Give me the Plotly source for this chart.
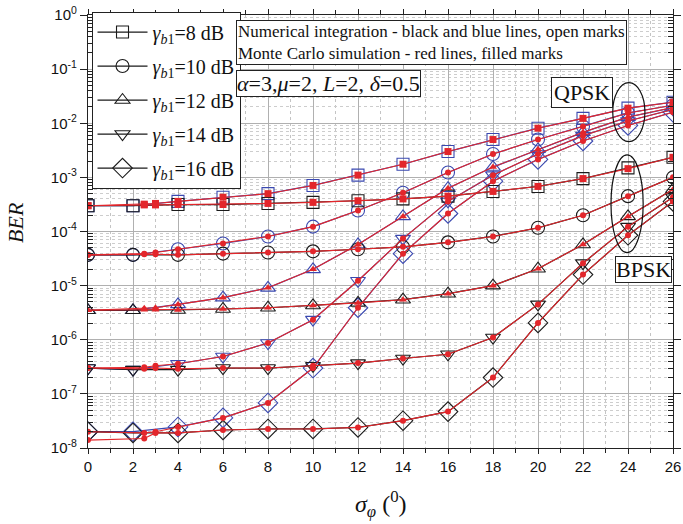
import plotly.graph_objects as go

# ---------------- data ----------------
sigma = [0, 2, 4, 6, 8, 10, 12, 14, 16, 18, 20, 22, 24, 26]
sigma_mc = [0, 2.5, 3, 4, 6, 8, 10, 12, 14, 16, 18, 20, 22, 24, 26]
snr_labels = ["8", "10", "12", "14", "16"]

bpsk_8 = [3.0e-4, 3.0e-4, 3.15e-4, 3.15e-4, 3.3e-4, 3.45e-4, 3.7e-4, 4.0e-4, 4.5e-4, 5.5e-4, 6.8e-4, 9.5e-4, 1.5e-3, 2.35e-3]
bpsk_10 = [3.7e-5, 3.7e-5, 3.7e-5, 3.9e-5, 4.1e-5, 4.3e-5, 4.7e-5, 5.2e-5, 6.3e-5, 8.1e-5, 1.17e-4, 2.0e-4, 4.5e-4, 1.0e-3]
bpsk_12 = [3.5e-6, 3.5e-6, 3.55e-6, 3.7e-6, 3.9e-6, 4.3e-6, 4.8e-6, 5.5e-6, 7.1e-6, 1.0e-5, 2.05e-5, 5.75e-5, 1.9e-4, 6.0e-4]
bpsk_14 = [3.0e-7, 2.8e-7, 2.8e-7, 3.0e-7, 3.0e-7, 3.3e-7, 3.7e-7, 4.5e-7, 5.4e-7, 1.1e-6, 4.5e-6, 2.6e-5, 1.23e-4, 4.3e-4]
bpsk_16 = [2.0e-8, 1.9e-8, 1.9e-8, 2.15e-8, 2.25e-8, 2.25e-8, 2.4e-8, 3.2e-8, 4.7e-8, 2.0e-7, 2.05e-6, 1.6e-5, 8.5e-5, 3.6e-4]

qpsk_8 = [3.0e-4, 3.0e-4, 3.6e-4, 4.3e-4, 5.0e-4, 7.1e-4, 1.1e-3, 1.75e-3, 3.0e-3, 5.0e-3, 8.1e-3, 1.23e-2, 1.9e-2, 2.45e-2]
qpsk_10 = [3.7e-5, 3.7e-5, 4.7e-5, 6.0e-5, 8.1e-5, 1.23e-4, 2.45e-4, 5.2e-4, 1.23e-3, 2.7e-3, 5.0e-3, 8.7e-3, 1.55e-2, 2.15e-2]
qpsk_12 = [3.5e-6, 3.5e-6, 4.5e-6, 6.0e-6, 9.1e-6, 2.0e-5, 5.75e-5, 1.9e-4, 6.3e-4, 1.55e-3, 3.3e-3, 6.8e-3, 1.3e-2, 1.95e-2]
qpsk_14 = [3.0e-7, 2.8e-7, 3.6e-7, 4.9e-7, 8.7e-7, 2.35e-6, 1.23e-5, 7.4e-5, 3.6e-4, 1.1e-3, 2.7e-3, 5.9e-3, 1.1e-2, 1.8e-2]
qpsk_16 = [2.0e-8, 2.0e-8, 2.45e-8, 3.6e-8, 6.8e-8, 3.0e-7, 3.9e-6, 3.9e-5, 2.15e-4, 8.5e-4, 2.15e-3, 4.7e-3, 9.1e-3, 1.6e-2]

mc_bpsk_8 = [3.0e-4, 3.1e-4, 3.1e-4, 3.15e-4, 3.15e-4, 3.3e-4, 3.45e-4, 3.7e-4, 4.0e-4, 4.5e-4, 5.5e-4, 6.8e-4, 9.5e-4, 1.45e-3, 2.35e-3]
mc_bpsk_10 = [3.7e-5, 3.8e-5, 3.8e-5, 3.7e-5, 3.9e-5, 4.1e-5, 4.3e-5, 4.7e-5, 5.2e-5, 6.3e-5, 8.1e-5, 1.17e-4, 2.0e-4, 4.5e-4, 1.0e-3]
mc_bpsk_12 = [3.5e-6, 3.6e-6, 3.6e-6, 3.55e-6, 3.7e-6, 3.9e-6, 4.3e-6, 4.8e-6, 5.5e-6, 7.1e-6, 1.0e-5, 2.05e-5, 5.75e-5, 1.9e-4, 6.0e-4]
mc_bpsk_14 = [3.0e-7, 2.9e-7, 3.0e-7, 2.9e-7, 3.0e-7, 3.0e-7, 3.3e-7, 3.7e-7, 4.5e-7, 5.4e-7, 1.1e-6, 4.5e-6, 2.6e-5, 1.23e-4, 4.3e-4]
mc_bpsk_16 = [1.4e-8, 1.5e-8, 1.9e-8, 1.9e-8, 2.15e-8, 2.25e-8, 2.25e-8, 2.4e-8, 3.2e-8, 4.7e-8, 2.0e-7, 2.05e-6, 1.6e-5, 8.5e-5, 3.6e-4]

mc_qpsk_8 = [3.0e-4, 3.2e-4, 3.3e-4, 3.6e-4, 4.3e-4, 5.0e-4, 7.1e-4, 1.1e-3, 1.75e-3, 3.0e-3, 5.0e-3, 8.1e-3, 1.23e-2, 1.9e-2, 2.45e-2]
mc_qpsk_10 = [3.7e-5, 3.9e-5, 4.1e-5, 4.7e-5, 6.0e-5, 8.1e-5, 1.23e-4, 2.45e-4, 5.2e-4, 1.23e-3, 2.7e-3, 5.0e-3, 8.7e-3, 1.55e-2, 2.15e-2]
mc_qpsk_12 = [3.5e-6, 3.8e-6, 3.9e-6, 4.5e-6, 6.0e-6, 9.1e-6, 2.0e-5, 5.75e-5, 1.9e-4, 6.3e-4, 1.55e-3, 3.3e-3, 6.8e-3, 1.3e-2, 1.95e-2]
mc_qpsk_14 = [3.0e-7, 3.1e-7, 3.3e-7, 3.6e-7, 4.9e-7, 8.7e-7, 2.35e-6, 1.23e-5, 7.4e-5, 3.6e-4, 1.1e-3, 2.7e-3, 5.9e-3, 1.1e-2, 1.8e-2]
mc_qpsk_16 = [2.0e-8, 1.9e-8, 2.0e-8, 2.45e-8, 3.6e-8, 6.8e-8, 3.0e-7, 3.9e-6, 3.9e-5, 2.15e-4, 8.5e-4, 2.15e-3, 4.7e-3, 9.1e-3, 1.6e-2]

y_tick_vals = [1e-8, 1e-7, 1e-6, 1e-5, 1e-4, 1e-3, 1e-2, 1e-1, 1e0]
y_tick_text = ["10<sup>-8</sup>", "10<sup>-7</sup>", "10<sup>-6</sup>", "10<sup>-5</sup>",
               "10<sup>-4</sup>", "10<sup>-3</sup>", "10<sup>-2</sup>", "10<sup>-1</sup>", "10<sup>0</sup>"]

# ---------------- styles ----------------
BLACK = "#1a1a1a"
BLUE = "#3a48b0"
RED = "#e3262b"
SERIF = "Liberation Serif, Times New Roman, serif"
SANS = "Liberation Sans, Arial, sans-serif"

open_symbols = ["square-open", "circle-open", "triangle-up-open", "triangle-down-open", "diamond-open"]
open_sizes = [12, 13, 13, 13, 15]
mc_symbols = ["square", "circle", "triangle-up", "circle", "circle"]
mc_sizes = [7, 6, 7, 6, 6]

bpsk = [bpsk_8, bpsk_10, bpsk_12, bpsk_14, bpsk_16]
qpsk = [qpsk_8, qpsk_10, qpsk_12, qpsk_14, qpsk_16]
mc_bpsk = [mc_bpsk_8, mc_bpsk_10, mc_bpsk_12, mc_bpsk_14, mc_bpsk_16]
mc_qpsk = [mc_qpsk_8, mc_qpsk_10, mc_qpsk_12, mc_qpsk_14, mc_qpsk_16]

fig = go.Figure()

for i, lab in enumerate(snr_labels):
    fig.add_trace(go.Scatter(
        x=sigma, y=qpsk[i], mode="lines+markers",
        line=dict(color=BLUE, width=1.2),
        marker=dict(symbol=open_symbols[i], size=open_sizes[i], color=BLUE, line=dict(width=1.1, color=BLUE)),
        showlegend=False, legendgroup=lab))
for i, lab in enumerate(snr_labels):
    fig.add_trace(go.Scatter(
        x=sigma, y=bpsk[i], mode="lines+markers",
        name=f"<i>γ</i><sub><i>b</i>1</sub>={lab} dB",
        line=dict(color=BLACK, width=1.2),
        marker=dict(symbol=open_symbols[i], size=open_sizes[i], color=BLACK, line=dict(width=1.1, color=BLACK)),
        showlegend=True, legendgroup=lab))
for i, lab in enumerate(snr_labels):
    for series in (mc_qpsk[i], mc_bpsk[i]):
        fig.add_trace(go.Scatter(
            x=sigma_mc, y=series, mode="lines+markers",
            line=dict(color=RED, width=1.1),
            marker=dict(symbol=mc_symbols[i], size=mc_sizes[i], color=RED, line=dict(width=0)),
            showlegend=False, legendgroup=lab))

minor_y = [m * 10.0 ** e for e in range(-8, 0) for m in range(2, 10)]

fig.update_layout(
    width=683, height=524,
    margin=dict(l=88, r=10, t=15, b=76, autoexpand=False),
    paper_bgcolor="white", plot_bgcolor="white",
    font=dict(family=SANS, size=15, color="#111"),
    legend=dict(
        x=0.006, y=1.008, xanchor="left", yanchor="top",
        bgcolor="white", bordercolor="#222", borderwidth=1,
        font=dict(family=SERIF, size=20, color="#111"),
        traceorder="grouped", tracegroupgap=5, itemwidth=50,
    ),
    xaxis=dict(
        range=[0, 26], dtick=2, tick0=0, automargin=False,
        showline=True, linecolor="#222", linewidth=1.2, mirror="allticks",
        ticks="outside", ticklen=5, tickcolor="#222",
        showgrid=True, gridcolor="#b0b0b0", gridwidth=1,
        zeroline=False,
        tickfont=dict(family=SANS, size=15, color="#111"),
        minor=dict(dtick=1, ticks="outside", ticklen=4, tickcolor="#222",
                   showgrid=True, gridcolor="#c4c4c4", griddash="dot", gridwidth=1),
    ),
    yaxis=dict(
        type="log", range=[-8, 0], automargin=False,
        tickmode="array", tickvals=y_tick_vals, ticktext=y_tick_text,
        showline=True, linecolor="#222", linewidth=1.2, mirror="allticks",
        ticks="outside", ticklen=7, tickcolor="#222",
        showgrid=True, gridcolor="#b0b0b0", gridwidth=1,
        zeroline=False,
        tickfont=dict(family=SANS, size=15, color="#111"),
        minor=dict(tickmode="array", tickvals=minor_y, ticks="inside", ticklen=5, tickcolor="#222",
                   showgrid=True, gridcolor="#cdcdcd", griddash="dot", gridwidth=1),
    ),
    annotations=[
        dict(xref="paper", yref="paper", x=0.253, y=0.989, xanchor="left", yanchor="top",
             text="Numerical integration - black and blue lines, open marks<br>Monte Carlo simulation - red lines, filled marks",
             align="left", showarrow=False, font=dict(family=SERIF, size=17, color="#111"),
             bgcolor="white", bordercolor="#222", borderwidth=1, borderpad=1),
        dict(xref="paper", yref="paper", x=0.253, y=0.874, xanchor="left", yanchor="top",
             text="<i>α</i>=3,<i>μ</i>=2, <i>L</i>=2, <i>δ</i>=0.5",
             showarrow=False, font=dict(family=SERIF, size=22, color="#111"),
             bgcolor="white", bordercolor="#222", borderwidth=1, borderpad=0),
        dict(xref="paper", yref="paper", x=0.791, y=0.857, xanchor="left", yanchor="top",
             text="QPSK", showarrow=False, font=dict(family=SERIF, size=22, color="#111"),
             bgcolor="white", bordercolor="#222", borderwidth=1, borderpad=2),
        dict(xref="paper", yref="paper", x=0.900, y=0.4435, xanchor="left", yanchor="top",
             text="BPSK", showarrow=False, font=dict(family=SERIF, size=22, color="#111"),
             bgcolor="white", bordercolor="#222", borderwidth=1, borderpad=0),
        dict(xref="paper", yref="paper", x=-0.123, y=0.52, xanchor="center", yanchor="middle",
             text="<i>BER</i>", textangle=-90, showarrow=False,
             font=dict(family=SERIF, size=22, color="#111")),
        dict(xref="paper", yref="paper", x=0.5, y=-0.085, xanchor="center", yanchor="top",
             text="<i>σ</i><sub><i>φ</i></sub> (<sup>0</sup>)", showarrow=False,
             font=dict(family=SERIF, size=24, color="#111")),
    ],
    shapes=[
        dict(type="circle", xref="paper", yref="paper", x0=0.897, x1=0.952, y0=0.7075, y1=0.844,
             fillcolor="rgba(0,0,0,0)", line=dict(color="#111", width=1.2)),
        dict(type="circle", xref="paper", yref="paper", x0=0.894, x1=0.949, y0=0.451, y1=0.677,
             fillcolor="rgba(0,0,0,0)", line=dict(color="#111", width=1.2)),
    ],
)

fig.write_html("out.html")
